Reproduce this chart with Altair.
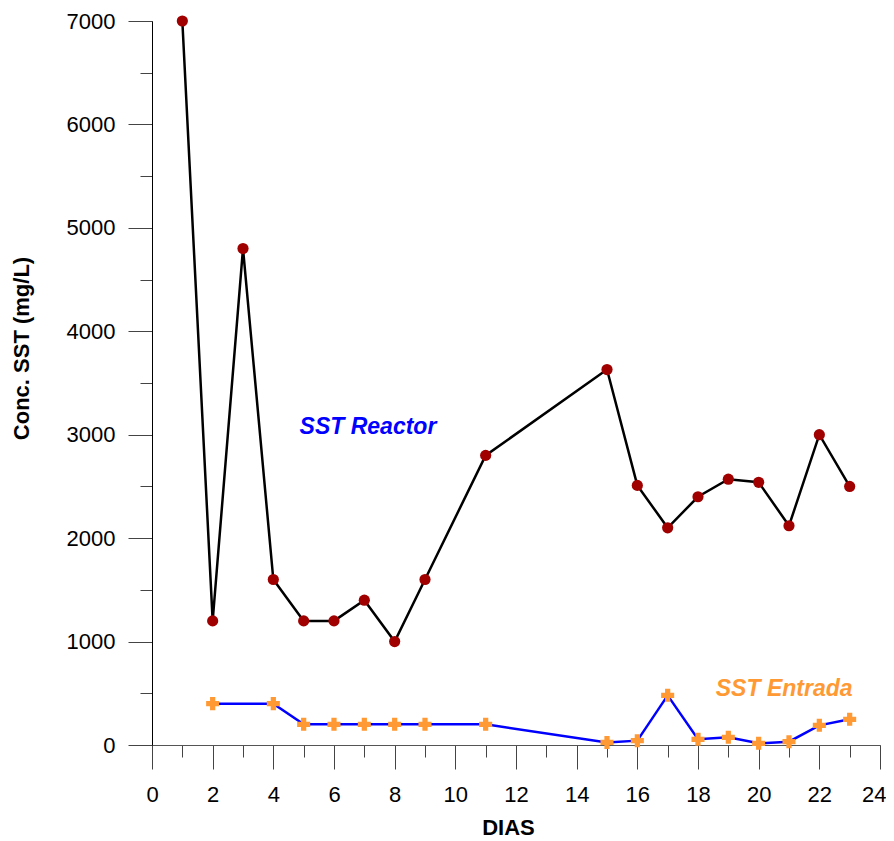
import altair as alt
import pandas as pd

# ---- data ----
dias_reactor = [1, 2, 3, 4, 5, 6, 7, 8, 9, 11, 15, 16, 17, 18, 19, 20, 21, 22, 23]
sst_reactor = [7000, 1200, 4800, 1600, 1200, 1200, 1400, 1000, 1600, 2800,
               3630, 2510, 2100, 2400, 2570, 2540, 2120, 3000, 2500]

dias_entrada = [2, 4, 5, 6, 7, 8, 9, 11, 15, 16, 17, 18, 19, 20, 21, 22, 23]
sst_entrada = [400, 400, 200, 200, 200, 200, 200, 200, 25, 42, 480, 55, 74, 16, 32, 190, 248]

x_major = list(range(0, 25, 2))
x_minor = list(range(0, 25, 1))
y_major = list(range(0, 7001, 1000))
y_minor = list(range(0, 7001, 500))

label_text = ["SST Reactor", "SST Entrada"]
label_x = [7.12, 20.84]
label_y = [3075, 537]
label_color = ["#0000FF", "#FF9933"]

FONT = "Liberation Sans"

reactor = pd.DataFrame({"dia": dias_reactor, "sst": sst_reactor})
entrada = pd.DataFrame({"dia": dias_entrada, "sst": sst_entrada})
labels = pd.DataFrame({"t": label_text, "x": label_x, "y": label_y, "c": label_color})

xs = alt.Scale(domain=[0, 24], nice=False, zero=False)
ys = alt.Scale(domain=[0, 7000], nice=False)

common_axis = dict(grid=False, labelFont=FONT, labelFontSize=22, labelColor="black",
                   titleFont=FONT, titleFontSize=22, titleFontWeight="bold", titleColor="black")

x_major_axis = alt.Axis(values=x_major, tickSize=24, tickColor="#444", domainColor="#555",
                        labelPadding=15, title="DIAS", orient="bottom", titleX=356, titleY=72,
                        format="d", labelFlush=True, labelFlushOffset=6, labelOverlap=False,
                        **common_axis)
y_major_axis = alt.Axis(values=y_major, tickSize=24, tickColor="#444", domainColor="black",
                        labelPadding=13, title="Conc. SST (mg/L)", orient="left",
                        titleX=-124, titleY=327, titleBaseline="alphabetic",
                        format="d", labelFlush=False, labelOverlap=False,
                        **common_axis)
x_minor_axis = alt.Axis(values=x_minor, tickSize=12, tickColor="#444", labels=False, domain=False,
                        title=None, orient="bottom", grid=False)
y_minor_axis = alt.Axis(values=y_minor, tickSize=12, tickColor="#444", labels=False, domain=False,
                        title=None, orient="left", grid=False)

minor_layer = alt.Chart(reactor).mark_line(color="black", strokeWidth=2.5).encode(
    x=alt.X("dia:Q", scale=xs, axis=x_minor_axis),
    y=alt.Y("sst:Q", scale=ys, axis=y_minor_axis),
)

reactor_points = alt.Chart(reactor).mark_point(shape="circle", filled=True, color="#A00000",
                                                size=125, opacity=1).encode(
    x=alt.X("dia:Q", scale=xs, axis=x_major_axis),
    y=alt.Y("sst:Q", scale=ys, axis=y_major_axis),
)

entrada_line = alt.Chart(entrada).mark_line(color="#0000FF", strokeWidth=2.5).encode(
    x=alt.X("dia:Q", scale=xs, axis=None),
    y=alt.Y("sst:Q", scale=ys, axis=None),
)

entrada_points = alt.Chart(entrada).mark_point(shape="cross", filled=True, color="#FF9933",
                                                size=170, opacity=1).encode(
    x=alt.X("dia:Q", scale=xs, axis=None),
    y=alt.Y("sst:Q", scale=ys, axis=None),
)

texts = alt.Chart(labels).mark_text(font=FONT, fontSize=23, fontWeight="bold", fontStyle="italic",
                                     align="center", baseline="middle").encode(
    x=alt.X("x:Q", scale=xs, axis=None),
    y=alt.Y("y:Q", scale=ys, axis=None),
    text="t:N",
    color=alt.Color("c:N", scale=None),
)

chart = alt.layer(minor_layer, reactor_points, entrada_line, entrada_points, texts).resolve_axis(
    x="independent", y="independent"
).properties(
    width=728, height=724,
    autosize=alt.AutoSizeParams(type="none"),
    padding={"left": 144, "top": 13, "right": 6, "bottom": 95},
).configure_view(stroke=None)

chart.save("out.html", embed_options={"renderer": "svg", "actions": False})
